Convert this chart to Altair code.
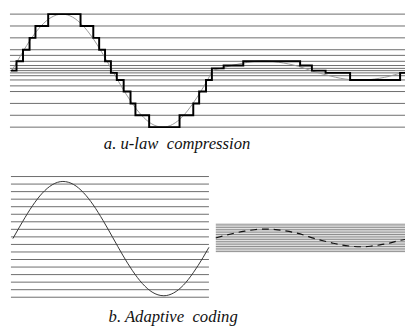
import altair as alt
import pandas as pd

# ---------------- data ----------------
# a. u-law quantisation levels (signal units, full scale = 1)
ulaw_levels = [1.0, 0.79, 0.58, 0.37, 0.27, 0.165, 0.09, 0.04, 0.0,
               -0.04, -0.09, -0.165, -0.27, -0.37, -0.58, -0.79, -1.0]

# analog signal: time position and value
sig_t = [2, 12, 22, 32, 42, 53, 64, 74, 84, 94, 104, 114, 124, 134, 144, 156,
         166, 176, 186, 196, 202, 207,
         217, 227, 237, 247, 258, 269, 279, 289, 299, 307, 317, 327, 337, 347,
         357, 367, 377, 387, 397, 403]
sig_v = [0.0, 0.30, 0.575, 0.795, 0.941, 1.0, 0.946, 0.804, 0.588, 0.316, 0.015,
         -0.288, -0.562, -0.785, -0.936, -1.0, -0.951, -0.814, -0.597, -0.330,
         -0.153, 0.0,
         0.05, 0.095, 0.13, 0.158, 0.17, 0.16, 0.135, 0.10, 0.05, 0.0, -0.05,
         -0.095, -0.135, -0.16, -0.17, -0.16, -0.135, -0.10, -0.05, -0.03]

# u-law quantised (sample and hold) signal
step_t = [1, 6.7, 13.3, 20, 26, 39, 72, 85, 91, 97, 103, 109, 116, 123, 128,
          142, 173, 187, 193, 200, 206, 218, 238, 296, 308, 322, 347, 398, 403]
step_v = [0.0, 0.165, 0.37, 0.58, 0.79, 1.0, 0.79, 0.58, 0.37, 0.165, -0.04,
          -0.165, -0.37, -0.58, -0.79, -1.0, -0.79, -0.58, -0.37, -0.165, 0.04,
          0.09, 0.165, 0.09, 0.0, -0.04, -0.165, -0.04, -0.04]

# b. adaptive coding: uniform levels, large signal (left) and small signal (right)
adapt_big_levels = [1.086, 0.954, 0.822, 0.690, 0.558, 0.426, 0.294, 0.162, 0.030,
                    -0.102, -0.234, -0.366, -0.498, -0.630, -0.762, -0.894, -1.026]
adapt_small_levels = [0.264, 0.231, 0.198, 0.165, 0.132, 0.099, 0.066, 0.033, 0.0,
                      -0.033, -0.066, -0.099, -0.132, -0.165, -0.198, -0.231, -0.264]

captions = ["a. u-law\u00a0\u00a0compression", "b. Adaptive\u00a0\u00a0coding"]

# ---------------- frames ----------------
sig = pd.DataFrame({"t": sig_t, "v": sig_v})
step = pd.DataFrame({"t": step_t, "v": step_v})


def levels_df(levels, t0, t1):
    return pd.DataFrame({"level": levels, "t0": t0, "t1": t1})


def sc(domain, rng):
    return alt.Scale(domain=domain, range=rng, nice=False, zero=False)


LINE = "#6a6a6a"
layers = []

# ---- panel a ----
xa = sc([0, 403], [2, 405])
ya = sc([-1, 1], [118.3, 3.0])
layers.append(alt.Chart(levels_df(ulaw_levels, 0, 403)).mark_rule(color=LINE, strokeWidth=1).encode(
    x=alt.X("t0:Q", scale=xa, axis=None), x2="t1:Q",
    y=alt.Y("level:Q", scale=ya, axis=None)))
layers.append(alt.Chart(sig).mark_line(color="#999999", strokeWidth=1, interpolate="monotone").encode(
    x=alt.X("t:Q", scale=xa, axis=None), y=alt.Y("v:Q", scale=ya, axis=None)))
layers.append(alt.Chart(step).mark_line(color="#000000", strokeWidth=2, interpolate="step-after").encode(
    x=alt.X("t:Q", scale=xa, axis=None), y=alt.Y("v:Q", scale=ya, axis=None)))

# ---- panel b, left ----
xbl = sc([0, 202], [3, 205])
ybl = sc([-1, 1], [290.3, 173.7])
layers.append(alt.Chart(levels_df(adapt_big_levels, 0, 202)).mark_rule(color=LINE, strokeWidth=1).encode(
    x=alt.X("t0:Q", scale=xbl, axis=None), x2="t1:Q",
    y=alt.Y("level:Q", scale=ybl, axis=None)))
layers.append(alt.Chart(sig[sig.t <= 202]).mark_line(color="#333333", strokeWidth=1, interpolate="monotone").encode(
    x=alt.X("t:Q", scale=xbl, axis=None), y=alt.Y("v:Q", scale=ybl, axis=None)))

# ---- panel b, right ----
xbr = sc([207, 403], [212, 405])
ybr = sc([-0.17, 0.17], [240.3, 222.3])
layers.append(alt.Chart(levels_df(adapt_small_levels, 207, 403)).mark_rule(color="#8a8a8a", strokeWidth=1).encode(
    x=alt.X("t0:Q", scale=xbr, axis=None), x2="t1:Q",
    y=alt.Y("level:Q", scale=ybr, axis=None)))
layers.append(alt.Chart(sig[sig.t >= 207]).mark_line(color="#111111", strokeWidth=1.2, strokeDash=[7, 5],
                                                     interpolate="monotone").encode(
    x=alt.X("t:Q", scale=xbr, axis=None), y=alt.Y("v:Q", scale=ybr, axis=None)))

# ---- captions ----
cap_pos = [(172.5, 141), (168.5, 317)]
for txt, (cx, cy) in zip(captions, cap_pos):
    layers.append(alt.Chart(pd.DataFrame({"label": [txt]})).mark_text(
        font="Liberation Serif, serif", fontStyle="italic", fontSize=17,
        align="center", baseline="alphabetic", color="#111111").encode(
        text="label:N", x=alt.value(cx), y=alt.value(cy)))

chart = alt.layer(*layers).resolve_scale(x="independent", y="independent").properties(
    width=405, height=322, padding=0, autosize=alt.AutoSizeParams(type="none"),
    background="white"
).configure_view(stroke=None)

chart.save("out.html", embed_options={"renderer": "svg", "actions": False})
